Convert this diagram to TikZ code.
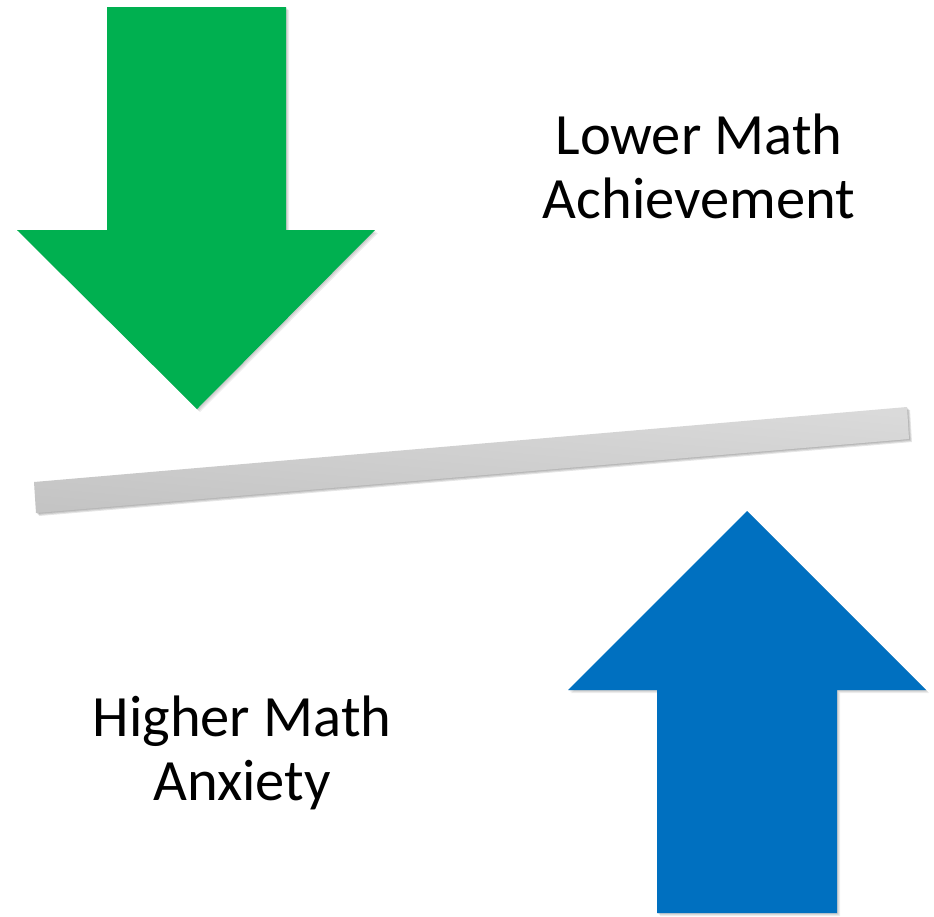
\documentclass[tikz,border=0pt]{standalone}
\usepackage{fontspec}
\setmainfont{Carlito}
\definecolor{arrgreen}{RGB}{0,176,80}
\definecolor{arrblue}{RGB}{0,112,192}
\definecolor{bartop}{RGB}{218,218,218}
\definecolor{barbot}{RGB}{196,196,196}
\begin{document}
\begin{tikzpicture}[x=1pt,y=-1pt,
  shadowlayer/.style={fill=black,fill opacity=0.07,draw=none},
  labeltext/.style={align=center,inner sep=0pt,font=\fontsize{58.5}{64}\selectfont,text=black}]
\useasboundingbox[fill=white] (0,0) rectangle (934,916);
% shadows
\foreach \s in {1,2,3}{
  \fill[shadowlayer,shift={(\s,\s)}] (107,7) -- (286,7) -- (286,230) -- (375,230) -- (197,409) -- (17,230) -- (107,230) -- cycle;
  \fill[shadowlayer,shift={(\s,\s)}] (747,511) -- (926,690) -- (837,690) -- (837,913) -- (657,913) -- (657,690) -- (568,690) -- cycle;
  \fill[shadowlayer,fill opacity=0.1,shift={(\s,\s)}] (34,482) -- (907,407) -- (909,439) -- (36,513) -- cycle;
}
% green down arrow
\fill[arrgreen] (107,7) -- (286,7) -- (286,230) -- (375,230) -- (197,409) -- (17,230) -- (107,230) -- cycle;
% blue up arrow
\fill[arrblue] (747,511) -- (926,690) -- (837,690) -- (837,913) -- (657,913) -- (657,690) -- (568,690) -- cycle;
% bar
\shade[top color=bartop,bottom color=barbot,shading angle=-5] (34,482) -- (907,407) -- (909,439) -- (36,513) -- cycle;
% labels
\node[labeltext] (lower) at (699,166) {Lower Math\\Achievement};
\node[labeltext] (higher) at (242,753) {Higher Math\\Anxiety};
\end{tikzpicture}
\end{document}
